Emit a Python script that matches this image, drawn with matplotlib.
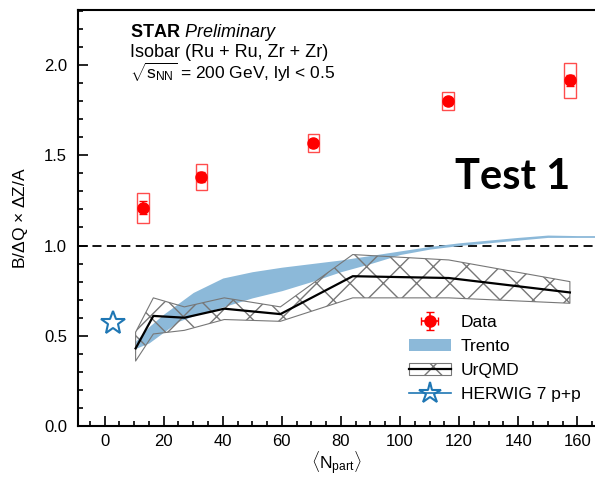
import numpy as np
import matplotlib
matplotlib.use("Agg")
import matplotlib.pyplot as plt
from matplotlib.patches import Rectangle, Patch
from matplotlib.lines import Line2D

plt.rcParams['font.family'] = ['Liberation Sans', 'DejaVu Sans']
plt.rcParams['mathtext.fontset'] = 'custom'
plt.rcParams['mathtext.rm'] = 'Liberation Sans'
plt.rcParams['mathtext.it'] = 'Liberation Sans:italic'
plt.rcParams['mathtext.bf'] = 'Liberation Sans:bold'
plt.rcParams['font.size'] = 12

# STAR isobar data
data_x = [12.9, 32.8, 70.7, 116.3, 157.4]
data_y = [1.21, 1.38, 1.566, 1.80, 1.915]
data_stat = [0.035, 0.03, 0.02, 0.02, 0.03]
data_sys = [0.083, 0.071, 0.05, 0.05, 0.095]

# Trento band
trento_x = [10.5, 15, 20, 25, 30, 40, 50, 60, 70, 80, 90, 100, 110, 120, 130, 140, 150, 160, 170]
trento_lo = [0.43, 0.46, 0.52, 0.58, 0.61, 0.66, 0.71, 0.75, 0.80, 0.855, 0.90, 0.95, 0.98, 1.00, 1.015, 1.03, 1.045, 1.045, 1.045]
trento_hi = [0.47, 0.55, 0.62, 0.68, 0.74, 0.82, 0.855, 0.88, 0.90, 0.92, 0.945, 0.97, 0.995, 1.015, 1.03, 1.045, 1.058, 1.055, 1.055]

# UrQMD
urqmd_x = [10.5, 16.5, 27, 40.5, 59.5, 84, 116.5, 157.5]
urqmd_y = [0.43, 0.61, 0.60, 0.65, 0.62, 0.83, 0.82, 0.74]
urqmd_lo = [0.36, 0.51, 0.53, 0.59, 0.58, 0.71, 0.71, 0.68]
urqmd_hi = [0.52, 0.71, 0.66, 0.71, 0.66, 0.95, 0.92, 0.80]

# HERWIG 7 p+p
herwig_x = [2.8]
herwig_y = [0.572]

red = '#ff0000'
blue = '#1f77b4'
trento_col = '#8cb9d9'

fig = plt.figure(figsize=(5.95, 4.78), dpi=100)
ax = fig.add_axes([78/595, 52/478, 1 - 78/595, (426-10)/478])

ax.fill_between(trento_x, trento_lo, trento_hi, color=trento_col, lw=0, zorder=2)

ax.fill_between(urqmd_x, urqmd_lo, urqmd_hi, facecolor='none', edgecolor='#777777',
                hatch='x', lw=0.8, zorder=3)
ax.plot(urqmd_x, urqmd_y, color='black', lw=1.6, zorder=4)

ax.axhline(1.0, color='black', ls='--', lw=1.3, dashes=(5, 3), zorder=1)

for x, y, s in zip(data_x, data_y, data_sys):
    ax.add_patch(Rectangle((x - 2.0, y - s), 4.0, 2 * s, facecolor='none',
                           edgecolor=red, alpha=0.7, lw=1.0, zorder=5))
ax.errorbar(data_x, data_y, yerr=data_stat, fmt='o', color=red, ms=8,
            capsize=3, elinewidth=1.2, zorder=6)

ax.plot(herwig_x, herwig_y, marker='*', ms=18, mfc='none', mec=blue, mew=1.5,
        ls='none', zorder=6)

ax.set_xlim(-9, 166)
ax.set_ylim(0, 2.305)
ax.set_xticks(np.arange(0, 161, 20))
ax.set_xticks(np.arange(-5, 166, 5), minor=True)
ax.set_yticks([0.0, 0.5, 1.0, 1.5, 2.0])
ax.set_yticks(np.arange(0, 2.31, 0.1), minor=True)
ax.tick_params(which='both', direction='in', width=1.2, labelsize=12)
ax.tick_params(which='major', length=7, pad=8)
ax.tick_params(axis='x', which='major', pad=6)
ax.tick_params(which='minor', length=3.5)
for sp in ['left', 'bottom', 'top']:
    ax.spines[sp].set_linewidth(1.5)
ax.spines['right'].set_visible(False)

ax.set_xlabel(r'$\langle\mathrm{N}_{\mathrm{part}}\rangle$', fontsize=12.5, labelpad=0)
ax.set_ylabel(r'B/$\Delta$Q $\times$ $\Delta$Z/A', fontsize=12.5, labelpad=10)

ax.text(0.10, 0.947, r'$\mathbf{STAR}$ $\mathit{Preliminary}$', transform=ax.transAxes,
        fontsize=13, va='center')
ax.text(0.10, 0.899, 'Isobar (Ru + Ru, Zr + Zr)', transform=ax.transAxes,
        fontsize=13, va='center')
ax.text(0.10, 0.849, r'$\sqrt{\mathrm{s_{NN}}}$ = 200 GeV, lyl < 0.5', transform=ax.transAxes,
        fontsize=12.5, va='center')

fig.text(513/595, 1 - 177/478, 'Test 1', fontsize=30, fontweight='bold',
         family='Lato', ha='center', va='center')

# legend handles
h_data = ax.errorbar([np.nan], [np.nan], xerr=1, yerr=1, fmt='o', color=red, ms=8,
                     capsize=3, elinewidth=1.2)
h_trento = Patch(facecolor=trento_col, edgecolor='none')
h_urqmd_band = Patch(facecolor='none', edgecolor='#777777', hatch='x', lw=0.8)
h_urqmd_line = Line2D([], [], color='black', lw=1.6)
h_herwig = Line2D([], [], color=blue, marker='*', ms=16, mfc='none', mew=1.5, lw=1.2)
leg = fig.legend([h_data, h_trento, (h_urqmd_band, h_urqmd_line), h_herwig],
                 ['Data', 'Trento', 'UrQMD', 'HERWIG 7 p+p'],
                 loc='upper left', bbox_to_anchor=(402/595, 1 - 308/478),
                 frameon=False, fontsize=12.5, handlelength=2.4,
                 handletextpad=0.6, labelspacing=0.5, borderaxespad=0)

fig.savefig('out.png', dpi=100)
